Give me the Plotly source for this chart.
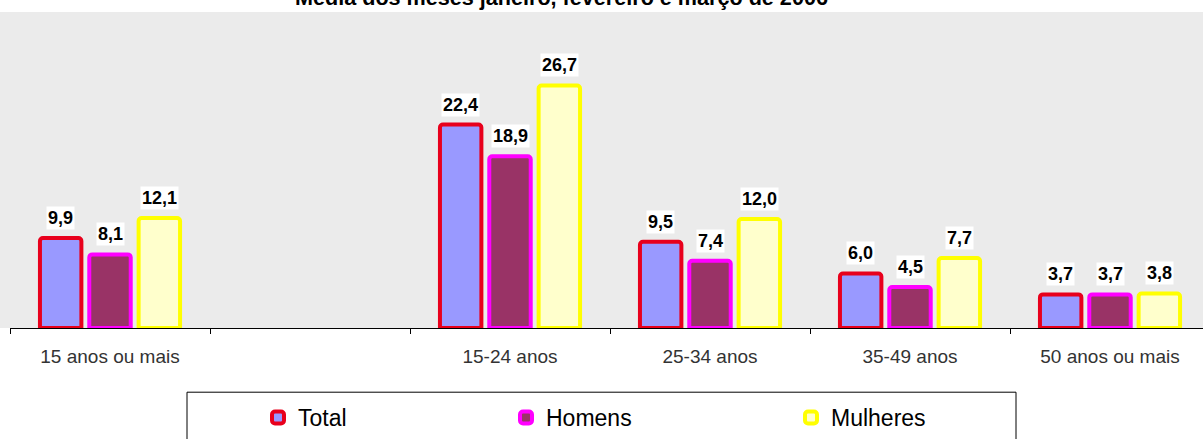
import plotly.graph_objects as go

categories = ["15 anos ou mais", " ", "15-24 anos", "25-34 anos", "35-49 anos", "50 anos ou mais"]
total = [9.9, None, 22.4, 9.5, 6.0, 3.7]
homens = [8.1, None, 18.9, 7.4, 4.5, 3.7]
mulheres = [12.1, None, 26.7, 12.0, 7.7, 3.8]

series = [
    ("Total", total, "#9999ff", "#e8001c"),
    ("Homens", homens, "#993366", "#ff00ff"),
    ("Mulheres", mulheres, "#ffffcc", "#ffff00"),
]

W, H = 1203, 439
ML, MT, MB = 10, 12, 107
plot_h = H - MT - MB
plot_w = W - ML
FONT = "Liberation Sans, Arial, sans-serif"

bargap = 0.26
bargroupgap = 0.16
slot = (1 - bargap) / 3

legend_names = ["legend", "legend2", "legend3"]
legend_text_x = [299, 547, 832]

fig = go.Figure()
annotations = []
for j, (name, vals, fill, border) in enumerate(series):
    fig.add_trace(go.Bar(
        name=name, x=categories, y=vals,
        marker=dict(color=fill, line=dict(color=border, width=4)),
        hoverinfo="skip", legend=legend_names[j],
    ))
    for i, v in enumerate(vals):
        if v is None:
            continue
        annotations.append(dict(
            x=i + (j - 1) * slot, y=v, xref="x", yref="y",
            text="<b>" + f"{v:.1f}".replace(".", ",") + "</b>",
            showarrow=False, yanchor="bottom", yshift=8,
            bgcolor="white", borderpad=1,
            font=dict(family=FONT, size=18, color="black"),
        ))

# title (partially cut off at top)
annotations.append(dict(
    x=(561 - ML) / plot_w, y=1 - 0.5 / plot_h, xref="paper", yref="paper",
    text="<b>Média dos meses janeiro, fevereiro e março de 2006</b>",
    showarrow=False, yanchor="bottom", xanchor="center",
    font=dict(family=FONT, size=21.6, color="black"),
))

legend_common = dict(
    orientation="h", xanchor="left",
    y=-(401 - 332) / plot_h, yanchor="top",
    bgcolor="rgba(0,0,0,0)", borderwidth=0,
    font=dict(family=FONT, size=23, color="black"),
    itemwidth=30,
)
legends = {}
for k, ln in enumerate(legend_names):
    legends[ln] = dict(legend_common, x=(legend_text_x[k] - 41 - ML) / plot_w)

fig.update_layout(
    width=W, height=H,
    margin=dict(l=ML, r=0, t=MT, b=MB, pad=0),
    paper_bgcolor="white", plot_bgcolor="#ebebeb",
    barmode="group", bargap=bargap, bargroupgap=bargroupgap,
    barcornerradius=3,
    showlegend=True,
    xaxis=dict(
        type="category", categoryorder="array", categoryarray=categories,
        range=[-0.5, -0.5 + plot_w / 200], automargin=False,
        showline=True, linecolor="black", linewidth=1,
        ticks="outside", ticklen=5, tickcolor="black", tickson="boundaries",
        showgrid=False, zeroline=False,
        tickfont=dict(family=FONT, size=19, color="#333333"),
        ticklabelstandoff=11,
        fixedrange=True,
    ),
    yaxis=dict(
        range=[0, plot_h / 9.2], visible=False, showgrid=False,
        zeroline=False, fixedrange=True, automargin=False,
    ),
    annotations=annotations,
    shapes=[
        dict(type="rect", xref="paper", yref="paper",
             x0=-ML / plot_w, x1=0, y0=0, y1=1,
             fillcolor="#ebebeb", line=dict(width=0), layer="below"),
        dict(type="rect", xref="paper", yref="paper",
             x0=(187 - ML) / plot_w, x1=(1016 - ML) / plot_w,
             y0=-(397 - 332) / plot_h, y1=-(450 - 332) / plot_h,
             fillcolor="white", line=dict(color="black", width=1), layer="below"),
    ],
    **legends,
)

fig.write_html(
    "out.html",
    config={"displayModeBar": False, "staticPlot": True},
    post_script=(
        "document.documentElement.style.margin='0';"
        "document.documentElement.style.padding='0';"
        "document.body.style.margin='0';"
        "document.body.style.padding='0';"
        "window.scrollTo(0,0);"
    ),
)
